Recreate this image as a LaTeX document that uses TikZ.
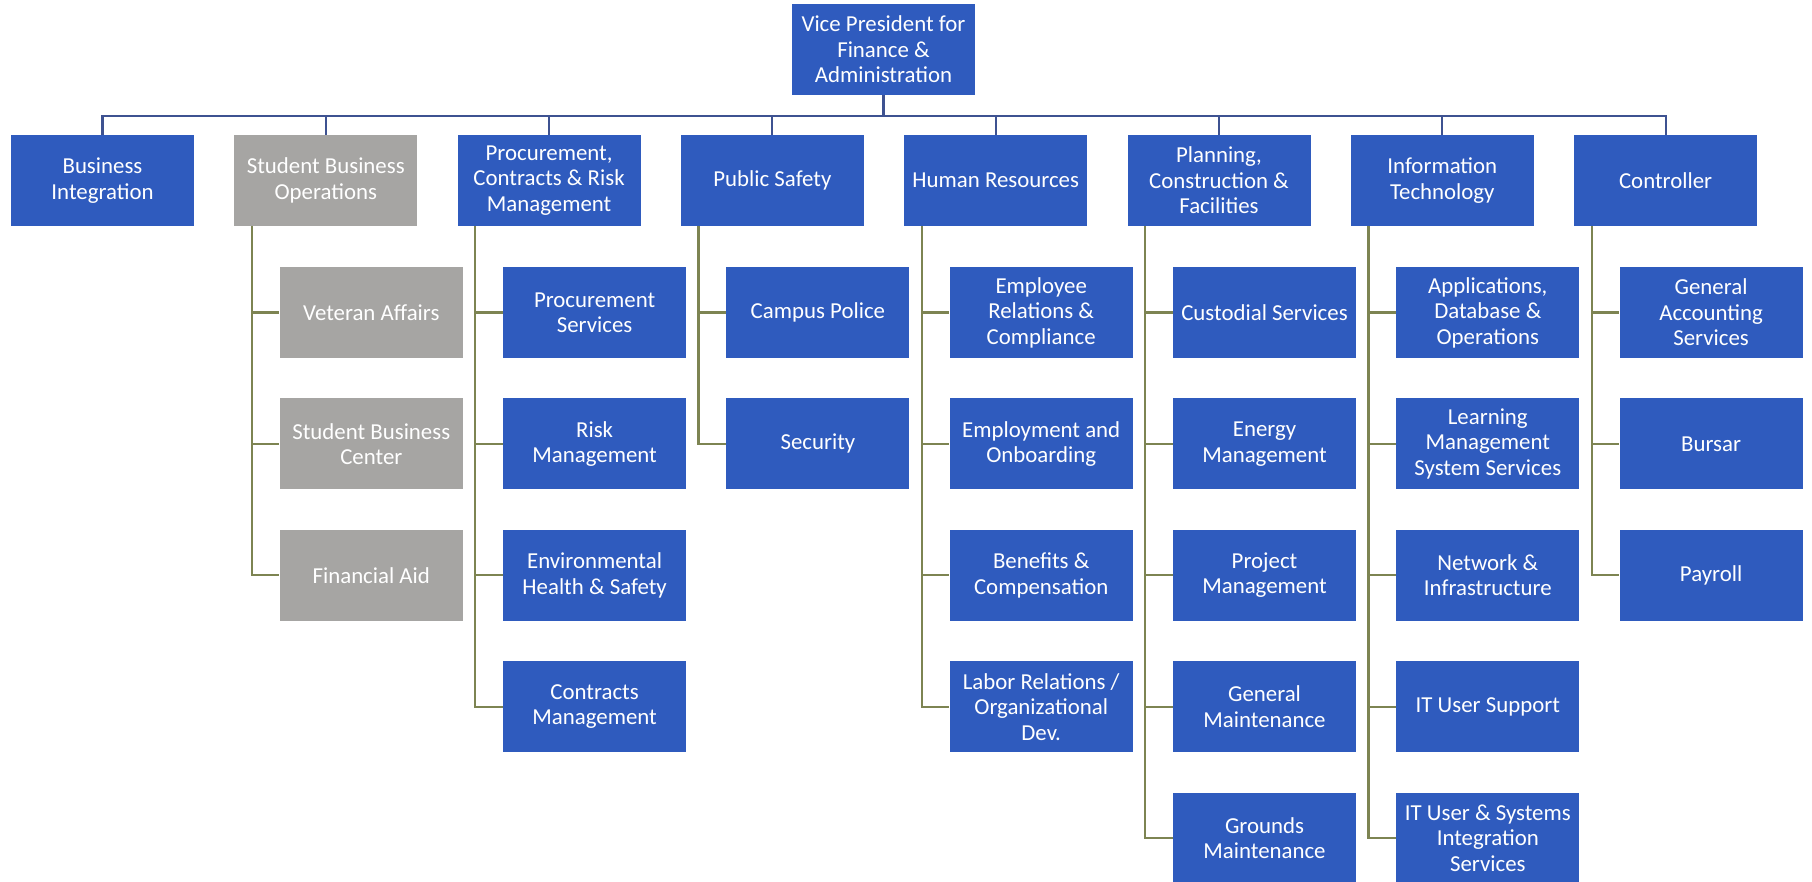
\documentclass[tikz,border=0pt]{standalone}
\usepackage{fontspec}
\setmainfont{Carlito}
\usetikzlibrary{positioning}
\definecolor{orgblue}{RGB}{47,91,190}
\definecolor{orggray}{RGB}{166,165,163}
\definecolor{barblue}{RGB}{62,82,145}
\definecolor{spineolive}{RGB}{125,132,82}

\tikzset{
    unit/.style={rectangle, fill=orgblue, text=white, minimum width=3.66cm, minimum height=1.82cm,
        inner sep=1pt, align=center, font=\fontsize{13}{14.5}\selectfont},
    grayunit/.style={unit, fill=orggray},
    topline/.style={draw=barblue, line width=1.2pt},
    spine/.style={draw=spineolive, line width=1.2pt}
}

\begin{document}
\begin{tikzpicture}
    \useasboundingbox (0,0) rectangle (36.24,-17.64);

    % Head
    \node[unit] (vp) at (17.67,-0.99) {Vice President for\\Finance \&\\Administration};

    % Departments
    \node[unit] (bizint) at (2.05,-3.61) {Business\\Integration};
    \node[grayunit] (sbo) at (6.516,-3.61) {Student Business\\Operations};
    \node[unit] (pcr) at (10.982,-3.61) {Procurement,\\Contracts \& Risk\\Management};
    \node[unit] (safety) at (15.448,-3.61) {Public Safety};
    \node[unit] (hr) at (19.914,-3.61) {Human Resources};
    \node[unit] (pcf) at (24.38,-3.61) {Planning,\\Construction \&\\Facilities};
    \node[unit] (it) at (28.846,-3.61) {Information\\Technology};
    \node[unit] (ctrl) at (33.312,-3.61) {Controller};

    \foreach \d in {bizint,sbo,pcr,safety,hr,pcf,it,ctrl}
        \draw[topline] (\d.north) -- ++(0,0.38) -| (vp.south);

    % Student Business Operations
    \node[grayunit] (vet) at (7.426,-6.25) {Veteran Affairs};
    \node[grayunit, below=0.794cm of vet] (sbc) {Student Business\\Center};
    \node[grayunit, below=0.794cm of sbc] (finaid) {Financial Aid};

    % Procurement, Contracts & Risk
    \node[unit] (procsvc) at (11.892,-6.25) {Procurement\\Services};
    \node[unit, below=0.794cm of procsvc] (risk) {Risk\\Management};
    \node[unit, below=0.794cm of risk] (ehs) {Environmental\\Health \& Safety};
    \node[unit, below=0.794cm of ehs] (contracts) {Contracts\\Management};

    % Public Safety
    \node[unit] (police) at (16.358,-6.25) {Campus Police};
    \node[unit, below=0.794cm of police] (security) {Security};

    % Human Resources
    \node[unit] (emprel) at (20.824,-6.25) {Employee\\Relations \&\\Compliance};
    \node[unit, below=0.794cm of emprel] (employ) {Employment and\\Onboarding};
    \node[unit, below=0.794cm of employ] (benefits) {Benefits \&\\Compensation};
    \node[unit, below=0.794cm of benefits] (labor) {Labor Relations /\\Organizational\\Dev.};

    % Planning, Construction & Facilities
    \node[unit] (custodial) at (25.29,-6.25) {Custodial Services};
    \node[unit, below=0.794cm of custodial] (energy) {Energy\\Management};
    \node[unit, below=0.794cm of energy] (project) {Project\\Management};
    \node[unit, below=0.794cm of project] (genmaint) {General\\Maintenance};
    \node[unit, below=0.794cm of genmaint] (grounds) {Grounds\\Maintenance};

    % Information Technology
    \node[unit] (apps) at (29.756,-6.25) {Applications,\\Database \&\\Operations};
    \node[unit, below=0.794cm of apps] (lms) {Learning\\Management\\System Services};
    \node[unit, below=0.794cm of lms] (network) {Network \&\\Infrastructure};
    \node[unit, below=0.794cm of network] (support) {IT User Support};
    \node[unit, below=0.794cm of support] (sysint) {IT User \& Systems\\Integration\\Services};

    % Controller
    \node[unit] (genacct) at (34.222,-6.25) {General\\Accounting\\Services};
    \node[unit, below=0.794cm of genacct] (bursar) {Bursar};
    \node[unit, below=0.794cm of bursar] (payroll) {Payroll};

    % Spines
    \foreach \c in {vet,sbc,finaid}
        \draw[spine] (sbo.south west) ++(0.36,0) |- (\c.west);
    \foreach \c in {procsvc,risk,ehs,contracts}
        \draw[spine] (pcr.south west) ++(0.36,0) |- (\c.west);
    \foreach \c in {police,security}
        \draw[spine] (safety.south west) ++(0.36,0) |- (\c.west);
    \foreach \c in {emprel,employ,benefits,labor}
        \draw[spine] (hr.south west) ++(0.36,0) |- (\c.west);
    \foreach \c in {custodial,energy,project,genmaint,grounds}
        \draw[spine] (pcf.south west) ++(0.36,0) |- (\c.west);
    \foreach \c in {apps,lms,network,support,sysint}
        \draw[spine] (it.south west) ++(0.36,0) |- (\c.west);
    \foreach \c in {genacct,bursar,payroll}
        \draw[spine] (ctrl.south west) ++(0.36,0) |- (\c.west);
\end{tikzpicture}
\end{document}
